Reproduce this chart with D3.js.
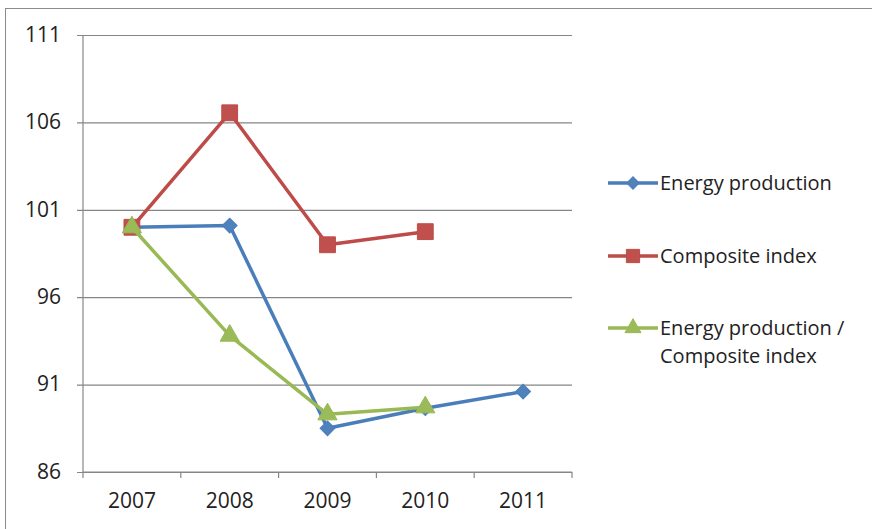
<!DOCTYPE html>
<html>
<head>
<meta charset="utf-8">
<script src="https://cdn.jsdelivr.net/npm/d3@7/dist/d3.min.js"></script>
<style>
  html, body { margin: 0; padding: 0; background: #fff; }
  svg { display: block; font-family: "Open Sans", "Noto Sans", sans-serif; }
</style>
</head>
<body>
<svg id="chart" width="872" height="529"></svg>
<script>
// Years on the category axis
const years = ["2007", "2008", "2009", "2010", "2011"];
// Series values (index points); null = no observation
const energyProduction = [100.0, 100.1, 88.5, 89.65, 90.6];
const compositeIndex = [100.0, 106.55, 99.0, 99.75, null];
const energyPerComposite = [100.0, 93.8, 89.3, 89.7, null];
// Value axis ticks
const yTicks = [86, 91, 96, 101, 106, 111];

const seriesNames = ["Energy production", "Composite index", "Energy production / Composite index"];
const seriesData = [energyProduction, compositeIndex, energyPerComposite];
const lineColors = ["#4a7ebb", "#be4b48", "#98b954"];
const markerColors = ["#4f81bd", "#c0504d", "#9bbb59"];
const markerTypes = [d3.symbolSquare, d3.symbolSquare, d3.symbolTriangle];
const markerRotate = [45, 0, 0];
const markerSizes = [110, 250, 160];

const svg = d3.select("#chart");

// Chart area frame
svg.append("rect")
  .attr("x", 5.5).attr("y", 8.5)
  .attr("width", 880).attr("height", 540)
  .attr("fill", "none").attr("stroke", "#8c8c8c").attr("stroke-width", 1);

const plot = { left: 83, right: 572, top: 35, bottom: 472 };

const x = d3.scaleBand().domain(years).range([plot.left, plot.right]);
const y = d3.scaleLinear().domain([86, 111]).range([plot.bottom, plot.top]);

// Horizontal gridlines with left tick stubs
const yAxis = d3.axisLeft(y).tickValues(yTicks)
  .tickSize(plot.right - plot.left + 6).tickPadding(16).tickFormat(d3.format("d"));
const gy = svg.append("g")
  .attr("transform", `translate(${plot.right},0)`)
  .call(yAxis);
gy.select(".domain").remove();
gy.selectAll(".tick line").attr("stroke", "#868686").attr("stroke-width", 1.2);
gy.selectAll(".tick text").attr("fill", "#222").attr("font-size", 21)
  .attr("font-family", "'Open Sans', sans-serif").attr("dy", "0.3em");

// Vertical value axis line
svg.append("line")
  .attr("x1", plot.left).attr("x2", plot.left)
  .attr("y1", plot.top).attr("y2", plot.bottom)
  .attr("stroke", "#868686").attr("stroke-width", 1.2);

// Category axis: boundary tick marks and centered labels
const boundaries = years.map(d => x(d)).concat([plot.right]);
svg.append("line")
  .attr("x1", plot.left).attr("x2", plot.right)
  .attr("y1", plot.bottom).attr("y2", plot.bottom)
  .attr("stroke", "#868686").attr("stroke-width", 1.2);
svg.selectAll(".xtick").data(boundaries).join("line")
  .attr("x1", d => d).attr("x2", d => d)
  .attr("y1", plot.bottom).attr("y2", plot.bottom + 6)
  .attr("stroke", "#868686").attr("stroke-width", 1.2);
svg.selectAll(".xlabel").data(years).join("text")
  .attr("x", d => x(d) + x.bandwidth() / 2)
  .attr("y", 508)
  .attr("text-anchor", "middle")
  .attr("font-size", 21).attr("fill", "#222")
  .text(d => d);

// Series lines and markers
const line = d3.line()
  .defined(d => d.v != null)
  .x(d => x(d.year) + x.bandwidth() / 2)
  .y(d => y(d.v));

seriesData.forEach((vals, i) => {
  const pts = years.map((yr, j) => ({ year: yr, v: vals[j] }));
  svg.append("path")
    .datum(pts)
    .attr("d", line)
    .attr("fill", "none")
    .attr("stroke", lineColors[i])
    .attr("stroke-width", 3.5)
    .attr("stroke-linejoin", "round");
  svg.selectAll(".m" + i).data(pts.filter(d => d.v != null)).join("path")
    .attr("transform", d => `translate(${x(d.year) + x.bandwidth() / 2},${y(d.v)}) rotate(${markerRotate[i]})`)
    .attr("d", d3.symbol().type(markerTypes[i]).size(markerSizes[i]))
    .attr("fill", markerColors[i])
    .attr("stroke", lineColors[i]).attr("stroke-width", 1);
});

// Legend
const legendRows = [
  { lines: ["Energy production"], y: 183 },
  { lines: ["Composite index"], y: 256 },
  { lines: ["Energy production /", "Composite index"], y: 328 }
];
legendRows.forEach((row, i) => {
  const g = svg.append("g");
  g.append("line")
    .attr("x1", 608).attr("x2", 658)
    .attr("y1", row.y).attr("y2", row.y)
    .attr("stroke", lineColors[i]).attr("stroke-width", 3.5);
  g.append("path")
    .attr("transform", `translate(633,${row.y}) rotate(${markerRotate[i]})`)
    .attr("d", d3.symbol().type(markerTypes[i]).size(markerSizes[i] * 0.7))
    .attr("fill", markerColors[i])
    .attr("stroke", lineColors[i]).attr("stroke-width", 1);
  row.lines.forEach((t, k) => {
    g.append("text")
      .attr("x", 660).attr("y", row.y + 7 + k * 28)
      .attr("font-size", 20).attr("fill", "#222")
      .text(t);
  });
});
</script>
</body>
</html>
